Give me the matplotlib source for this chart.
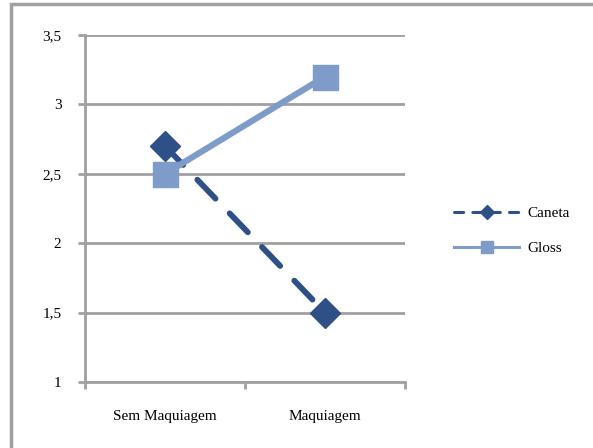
import matplotlib.pyplot as plt
from matplotlib.patches import Rectangle
from matplotlib.ticker import FixedLocator, FuncFormatter

categories = ['Sem Maquiagem', 'Maquiagem']
caneta = [2.7, 1.5]
gloss = [2.5, 3.2]
y_ticks = [1, 1.5, 2, 2.5, 3, 3.5]

plt.rcParams['font.family'] = ['Liberation Serif', 'DejaVu Serif']
W, H = 593, 448
fig = plt.figure(figsize=(W / 100, H / 100), dpi=100)
ax = fig.add_axes([85 / W, 1 - 382 / H, 320 / W, 347 / H])

grid_c = '#A0A0A0'
x = list(range(len(categories)))
ax.plot(x, caneta, color='#2F5087', lw=4.2, ls=(0, (4.5, 3.5)), dash_capstyle='round',
        marker='D', ms=15, mec='#2F5087', label='Caneta', zorder=3)
ax.plot(x, gloss, color='#7F9BC9', lw=4.5, marker='s', ms=18, mec='#7F9BC9',
        label='Gloss', zorder=4)

ax.set_xlim(-0.5, 1.5)
ax.set_ylim(1, 3.5)
ax.yaxis.set_major_locator(FixedLocator(y_ticks))
ax.yaxis.set_major_formatter(FuncFormatter(lambda v, p: ('%g' % v).replace('.', ',')))
ax.set_xticks(x)
ax.set_xticklabels(categories)
ax.xaxis.set_minor_locator(FixedLocator([-0.5, 0.5, 1.5]))
ax.tick_params(axis='x', which='major', length=0, pad=20, labelsize=11)
ax.tick_params(axis='x', which='minor', length=5, width=2, color=grid_c)
ax.tick_params(axis='y', length=5, width=2, color=grid_c, pad=12, labelsize=11)
ax.grid(axis='y', color=grid_c, lw=2)
for s in ['top', 'right']:
    ax.spines[s].set_visible(False)
for s in ['left', 'bottom']:
    ax.spines[s].set_color(grid_c)
    ax.spines[s].set_linewidth(2)

leg = ax.legend(loc='center left', bbox_to_anchor=(440 / W, 1 - 231 / H), bbox_transform=fig.transFigure,
                frameon=False, fontsize=11, handlelength=4.3, handletextpad=0.5, labelspacing=1.4,
                markerscale=0.5)
for ln, ls in zip(leg.get_lines(), [(0, (3, 3)), '-']):
    ln.set_linewidth(2.2)
    ln.set_linestyle(ls)

fig.patches.append(Rectangle((11 / W, -0.1), 1.2, 1 - 4 / H + 0.1, transform=fig.transFigure,
                             fill=False, ec='#A0A0A0', lw=2.5))
fig.savefig('out.png', dpi=100)
